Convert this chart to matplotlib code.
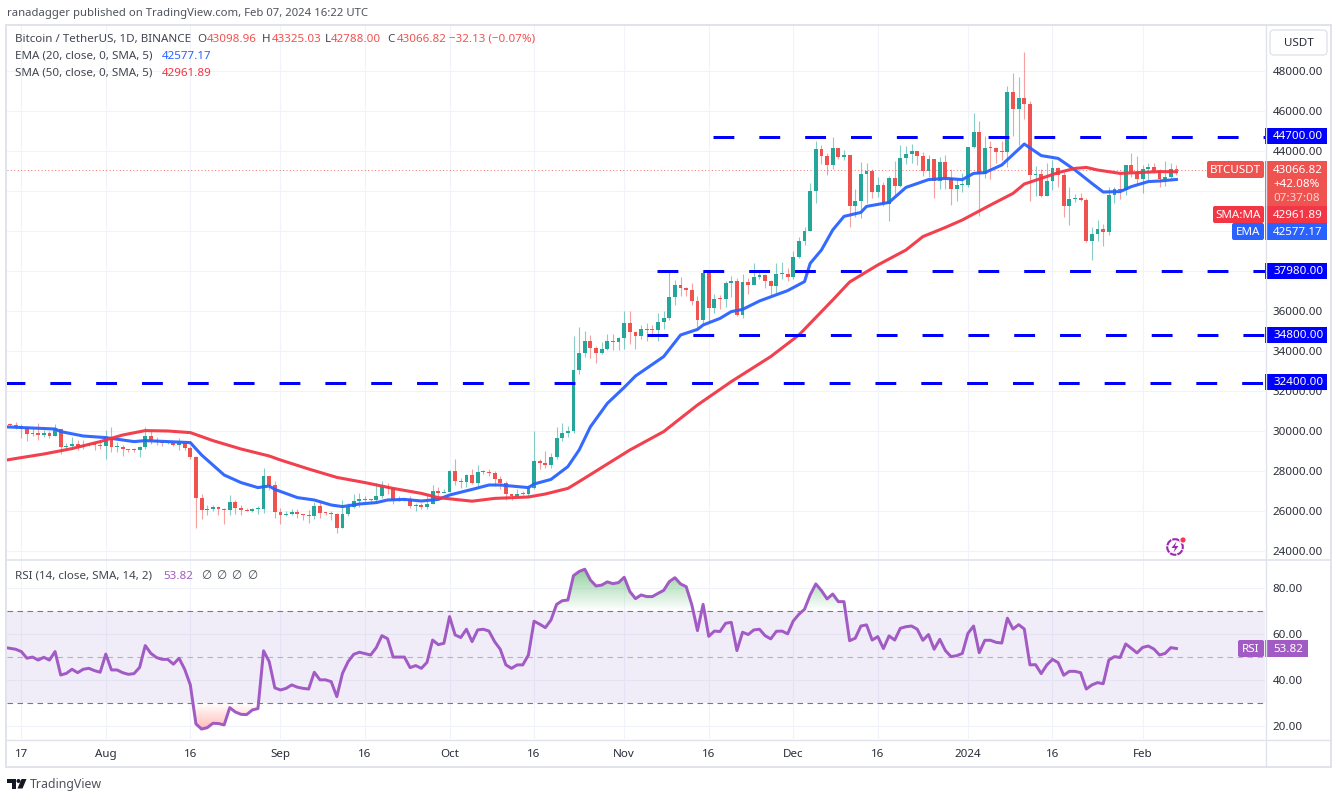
import numpy as np
import matplotlib
matplotlib.use("Agg")
import matplotlib.pyplot as plt
from matplotlib.patches import Rectangle, FancyBboxPatch, Circle, Polygon
from matplotlib.path import Path

plt.rcParams['font.family'] = ['Noto Sans', 'DejaVu Sans']

opens = [30320,30295,30249,30145,29856,29913,29792,29908,29771,30083,29176,29228,29354,29212,29314,29352,29281,
 29232,29705,29186,29193,29113,29042,29041,29180,29765,29561,29429,29397,29415,29283,29408,29170,28701,26664,26049,26096,26189,26124,26040,26431,26163,26047,26004,26089,26106,27728,27299,
 25940,25805,25869,25971,25827,25792,25759,26255,25910,25901,25841,25162,25840,26222,26522,26600,26569,26527,26762,27210,27127,26568,26580,26579,26256,26298,26217,26352,27021,26906,
 26962,27983,27494,27426,27778,27412,27931,27956,27917,27590,27392,26875,26756,26862,26852,27154,28500,28395,28320,28713,29669,29909,29992,33069,33922,34496,34151,33892,34081,34525,34474,
 34639,35421,34941,34732,35082,35049,35037,35443,35655,36693,37313,37138,37054,36502,35537,37880,36154,36596,36585,37386,37476,35813,37432,37289,37720,37796,37479,37254,37831,37858,
 37712,38688,39476,39978,41980,44080,43773,43292,44170,43713,43789,41253,41492,42869,43022,41940,42278,41374,42657,42275,43668,43861,43997,43739,43016,43613,42520,43442,42627,42099,42283,
 42283,44179,44946,42845,44151,44145,43968,43929,46951,46110,46654,46339,42782,42847,41732,42511,43137,42776,41262,41618,41665,41545,39507,39845,40077,39933,41816,42120,42035,43288,42952,
 42582,43082,43200,43011,42582,42708,43099]
closes = [30295,30249,30145,29856,29913,29792,29908,29771,30083,29176,29228,29354,29212,29314,29352,29281,29232,
 29705,29186,29193,29113,29042,29041,29180,29765,29561,29429,29397,29415,29283,29408,29170,28701,26664,26049,26096,26189,26124,26040,26431,26163,26047,26004,26089,26106,27728,27299,25940,
 25805,25869,25971,25827,25792,25759,26255,25910,25901,25841,25162,25840,26222,26522,26600,26569,26527,26762,27210,27127,26568,26580,26579,26256,26298,26217,26352,27021,26906,26962,
 27983,27494,27426,27778,27412,27931,27956,27917,27590,27392,26875,26756,26862,26852,27154,28500,28395,28320,28713,29669,29909,29992,33069,33922,34496,34151,33892,34081,34525,34474,34639,
 35421,34941,34732,35082,35049,35037,35443,35655,36693,37313,37138,37054,36502,35537,37880,36154,36596,36585,37386,37476,35813,37432,37289,37720,37796,37479,37254,37831,37858,37712,
 38688,39476,39978,41980,44080,43773,43292,44170,43713,43789,41253,41492,42869,43022,41940,42278,41374,42657,42275,43668,43861,43997,43739,43016,43613,42520,43442,42627,42099,42283,42283,
 44179,44946,42845,44151,44145,43968,43929,46951,46110,46654,46339,42782,42847,41732,42511,43137,42776,41262,41618,41665,41545,39507,39845,40077,39933,41816,42120,42035,43288,42952,42582,
 43082,43200,43011,42582,42708,43099,43067]
highs = [30390,30440,30340,30245,30190,30410,30050,29990,30350,30100,29380,29690,29570,29530,29415,29450,29530,
 30050,30180,29440,29310,29110,29170,29240,30200,30070,29680,29530,29450,29470,29650,29470,29230,28770,26840,26290,26300,26260,26140,26800,26560,26310,26130,26170,26240,28140,27580,27490,
 26130,25980,26120,26100,25870,26030,26450,26430,25950,25980,25900,26550,26400,26850,26890,26770,26620,27410,27490,27380,27150,26740,26640,26740,26400,26390,26830,27290,27225,27090,
 28060,28580,27670,27830,28120,28290,28030,28110,27990,27730,27480,26830,27100,26980,27290,30000,28610,28980,28920,30200,30380,30230,34740,35200,35000,34820,34240,34470,34840,34860,34720,
 35980,35980,34950,35280,35380,35280,35900,35990,37970,37530,37700,37210,37400,36760,37980,37920,36850,36820,37500,37750,37650,37860,37650,38400,37890,37840,37560,38390,38450,38170,
 38980,39700,40220,42420,44490,44300,43880,44700,44050,44040,43800,42100,43430,43420,43090,42700,42430,42770,43500,44280,44240,44370,44020,43950,43810,43600,43680,43790,43110,42610,42900,
 44180,45880,45500,44770,44490,44220,44500,47250,47890,47700,48970,46500,43250,43080,43380,43570,43200,42930,42200,41860,41880,41650,40180,40550,40350,42220,42200,42840,43310,43880,43750,
 43290,43420,43380,43120,43500,43400,43325]
lows = [30260,30080,29660,29500,29760,29560,29720,29640,29730,28860,29050,29100,29050,29120,29260,29030,29100,
 28580,28950,28950,28750,28950,28970,28700,29120,29350,29310,29250,29350,29250,29040,29060,28600,25170,25600,25800,26000,25800,25330,25800,25850,25780,25980,25960,25860,25920,27030,25660,
 25330,25730,25820,25650,25570,25380,25610,25650,25800,25550,24900,25130,25770,26130,26220,26470,26400,26380,26670,26850,26360,26500,26500,26130,25990,26090,26110,26330,26660,26880,
 26950,27300,27160,27200,27340,27180,27860,27730,27260,27110,26540,26560,26700,26810,26760,27110,28080,28130,28170,28610,29480,29700,29880,32850,33700,33670,33390,33850,34050,34050,34050,
 34120,34350,34100,34580,34500,34720,34520,35100,35530,36320,36730,36760,36300,35100,35360,35510,35880,36100,36190,36700,35750,35630,36870,37510,37600,37150,36750,36880,37600,37500,
 37620,38650,39290,39980,41420,43340,42820,43080,43590,43530,40220,40680,40640,41400,41650,41690,41250,40500,41820,42210,43330,43420,43290,42750,42720,41630,42100,42100,41300,41520,41970,
 42190,44150,40750,42630,42600,43400,43560,43200,44750,44300,45610,41500,41730,41700,41750,42050,42200,40680,40280,41450,41500,39430,38550,39490,39260,39820,41400,41620,41800,42680,42280,
 41900,42570,42880,42220,42260,42570,42788]

ema_bars = [-1,8,9,13,17,22,24,28,32,34,36,38,41,44,46,47,51,54,57,59,62,65,67,70,73,76,78,82,85,87,92,93,96,99,
 101,103,106,109,111,116,119,122,123,126,128,130,133,138,141,142,144,146,148,151,152,156,159,163,166,169,171,173,176,
 180,183,186,189,192,194,197,199,202,204,207]
ema_vals = [30210,30100,29970,29750,29670,29470,29520,29470,29420,28800,28300,27800,27420,27170,27250,27080,26670,26550,26300,26220,26350,26420,26550,26580,26500,26580,26800,27080,27300,27300,27170,27350,27580,28220,
 29050,30210,31380,32180,32750,33720,34800,35080,35300,35630,35970,36080,36500,37020,37470,38380,39050,40050,40730,40930,41230,41430,42180,42570,42630,42570,42880,42920,43300,
 44350,43770,43630,43050,42380,41950,41970,42220,42470,42500,42577]
sma_bars = [-1,2,6,11,16,20,24,28,32,36,41,46,48,53,58,63,68,73,76,82,86,92,95,99,101,110,116,122,128,135,140,146,149,154,
 159,162,166,169,174,178,180,183,186,189,191,193,197,201,204,207]
sma_vals = [28530,28670,28850,29120,29470,29800,30020,30000,29920,29520,29100,28750,28550,28100,27680,27420,27130,26880,26670,26490,26630,26700,26850,27130,27470,29050,29970,31300,32470,33720,34800,36550,37450,38300,
 39050,39720,40180,40550,41300,41880,42350,42630,42920,43130,43180,43050,42880,42930,42970,42962]

rsi_bars = np.arange(-1, 208)
rsi_vals = [54.3,
 53.9,53.5,52.5,49.6,50.1,48.8,50.0,48.8,52.5,42.3,43.0,44.8,43.3,44.8,45.2,44.2,43.5,51.4,44.5,44.5,43.3,42.6,42.9,45.6,55.1,51.7,49.9,49.1,49.1,47.0,49.6,44.8,38.0,21.0,18.8,19.4,21.3,21.2,20.6,28.1,26.2,25.2,25.1,27.1,27.7,52.8,48.1,36.7,35.8,36.5,38.0,37.0,36.5,36.2,43.5,40.2,40.2,39.4,32.9,43.0,48.1,51.3,52.2,51.6,51.0,54.2,59.4,58.1,50.1,50.1,50.1,45.5,46.4,45.2,47.8,57.5,55.5,56.1,67.7,
 59.7,58.6,62.2,56.8,61.9,62.2,61.4,56.8,53.5,46.7,45.2,46.7,46.7,51.0,65.7,64.4,62.9,66.2,73.0,74.6,74.9,85.5,87.3,88.3,83.6,81.0,81.4,82.8,82.0,82.5,84.8,78.6,75.5,77.1,76.4,76.4,77.8,79.1,82.9,84.6,81.9,80.7,72.8,61.6,73.0,59.1,61.4,61.2,64.8,65.2,52.9,60.9,59.9,61.9,62.2,59.4,58.0,61.3,61.4,60.2,65.8,68.7,70.9,77.1,81.9,79.0,75.4,77.5,74.2,74.2,57.2,58.3,63.6,64.1,57.5,59.0,53.8,59.3,
 57.5,62.6,63.3,63.6,62.2,57.4,59.9,53.5,57.8,52.9,50.3,50.7,51.7,60.4,63.6,52.0,57.4,57.4,56.5,56.2,67.0,62.3,64.2,62.3,46.7,46.8,42.9,46.7,49.1,47.7,42.2,43.9,43.9,43.3,36.2,38.0,39.0,38.5,48.8,50.3,49.9,55.8,53.9,51.9,54.3,54.9,53.6,51.0,51.7,54.2,53.82]

level_prices = [44700, 37980, 34800, 32400]
level_starts = [124.8, 114.9, 113.0, -1.0]
level_labels = ['44700.00', '37980.00', '34800.00', '32400.00']

price_ticks = list(range(24000, 50000, 2000))
hidden_ticks = [38000, 40000, 42000]
rsi_ticks = [20, 40, 60, 80]
time_ticks = [2, 17, 32, 48, 63, 78, 93, 109, 124, 139, 154, 170, 185, 201]
time_labels = ['17', 'Aug', '16', 'Sep', '16', 'Oct', '16', 'Nov', '16', 'Dec', '16', '2024', '16', 'Feb']

assert len(opens) == len(closes) == len(highs) == len(lows) == 208, (len(opens), len(closes), len(highs), len(lows))
assert len(rsi_vals) == 209, len(rsi_vals)
assert len(ema_bars) == len(ema_vals), (len(ema_bars), len(ema_vals))
assert len(sma_bars) == len(sma_vals), (len(sma_bars), len(sma_vals))

W, H = 1339, 797
GREEN, RED = '#26a69a', '#ef5350'
GRID = '#f0f3fa'
FRAME = '#e0e3eb'
TXT = '#2a2e39'
PURPLE = '#a25bc5'
BLUE = '#0000ff'
FS = 8.35

fig = plt.figure(figsize=(W / 100, H / 100), dpi=100, facecolor='white')

def axes_px(x0, y0, x1, y1, **kw):
    return fig.add_axes([x0 / W, 1 - y1 / H, (x1 - x0) / W, (y1 - y0) / H], **kw)

# x: bar i sits at pixel 10 + 5.635 i
xlim = ((7 - 10) / 5.635, (1265 - 10) / 5.635)

# ---------- price pane
ax = axes_px(7, 26, 1265, 560)
ax.set_xlim(xlim)
ax.set_ylim(48000 - (560 - 71) * 50, 48000 + (71 - 26) * 50)
ax.set_axisbelow(True)
bars = np.arange(len(closes))
o, c, h, l = map(np.array, (opens, closes, highs, lows))
col = [GREEN if cc >= oo else RED for oo, cc in zip(o, c)]
ax.vlines(bars, l, h, colors=col, lw=0.8, alpha=0.55, zorder=2)
ax.bar(bars, np.maximum(np.abs(c - o), 50), bottom=np.minimum(o, c), width=0.68, color=col, linewidth=0, zorder=3)
ax.axhline(closes[-1], color=RED, lw=0.7, ls=(0, (1, 2.5)), alpha=0.85, zorder=2.5)
ax.plot(ema_bars, ema_vals, color='#2962ff', lw=2.2, zorder=4, solid_joinstyle='round', alpha=0.95)
ax.plot(sma_bars, sma_vals, color='#f23645', lw=2.2, zorder=4, solid_joinstyle='round', alpha=0.95)
for p, s in zip(level_prices, level_starts):
    ax.plot([s, xlim[1]], [p, p], color=BLUE, lw=2.16, ls=(0, (6.95, 8.33)), dash_capstyle='butt', zorder=5)
ax.set_xticks(time_ticks)
ax.tick_params(axis='x', length=0, labelbottom=False)
ax.yaxis.tick_right()
ax.set_yticks(price_ticks)
ax.set_yticklabels(['' if t in hidden_ticks else f'{t:.2f}' for t in price_ticks], fontsize=FS, color=TXT)
ax.tick_params(axis='y', length=0, pad=5.6)
ax.grid(True, color=GRID, lw=0.8)
for s in ax.spines.values():
    s.set_visible(False)

# ---------- RSI pane
ar = axes_px(7, 561, 1265, 739)
ar.set_xlim(xlim)
ar.set_ylim(20 - (739 - 726.3) / 2.3, 80 + (588.3 - 561) / 2.3)
ar.set_axisbelow(True)
ar.axhspan(30, 70, color='#7e57c2', alpha=0.1, lw=0, zorder=1)
rb = np.asarray(rsi_bars, float)
rv = np.asarray(rsi_vals)
def gradient(cond, base, far, rgb, amax):
    poly = ar.fill_between(rb, base, rv, where=cond, interpolate=True, color='none', lw=0)
    path = Path.make_compound_path(*poly.get_paths())
    n = 64
    img = np.zeros((n, 1, 4))
    img[..., :3] = rgb
    img[:, 0, 3] = np.linspace(amax, 0, n)
    im = ar.imshow(img, extent=(xlim[0], xlim[1], base, far), aspect='auto', zorder=1.5,
                   origin='upper', interpolation='bilinear')
    im.set_clip_path(path, transform=ar.transData)
gradient(rv > 70, 70, 90, (0.25, 0.68, 0.33), 0.62)
gradient(rv < 30, 30, 18, (1.0, 0.33, 0.28), 0.42)
ar.set_xlim(xlim)
ar.set_ylim(20 - (739 - 726.3) / 2.3, 80 + (588.3 - 561) / 2.3)
ar.axhline(70, color='#787b86', lw=0.8, ls=(0, (5, 4)), zorder=2)
ar.axhline(30, color='#787b86', lw=0.8, ls=(0, (5, 4)), zorder=2)
ar.axhline(50, color='#b2b5be', lw=0.8, ls=(0, (5, 4)), zorder=2)
ar.plot(rb, rv, color=PURPLE, lw=2.15, zorder=3, solid_joinstyle='round')
ar.set_xticks(time_ticks)
ar.set_xticklabels(time_labels, fontsize=FS, color=TXT)
ar.tick_params(axis='x', length=0, pad=7.3)
ar.yaxis.tick_right()
ar.set_yticks(rsi_ticks)
ar.set_yticklabels([f'{t:.2f}' for t in rsi_ticks], fontsize=FS, color=TXT)
ar.tick_params(axis='y', length=0, pad=5.6)
ar.grid(True, color=GRID, lw=0.8)
for s in ar.spines.values():
    s.set_visible(False)

# ---------- chrome overlay in pixel coordinates
ov = fig.add_axes([0, 0, 1, 1], zorder=10)
ov.set_xlim(0, W)
ov.set_ylim(H, 0)
ov.axis('off')

def T(x, y, s, color=TXT, ha='left', fs=FS, **kw):
    ov.text(x, y + 0.8, s, color=color, ha=ha, va='center', fontsize=fs, **kw)

def box(x0, y0, x1, y1, color, round_=False):
    if round_:
        ov.add_patch(FancyBboxPatch((x0 + 1.5, y0 + 1.5), x1 - x0 - 3, y1 - y0 - 3,
                                    boxstyle='round,pad=1.5,rounding_size=2', fc=color, ec='none'))
    else:
        ov.add_patch(Rectangle((x0, y0), x1 - x0, y1 - y0, fc=color, ec='none'))

# frames
ov.add_patch(Rectangle((6, 25), 1325, 742, fc='none', ec=FRAME, lw=1.4))
ov.plot([7, 1331], [560, 560], color=FRAME, lw=1.2)
ov.plot([7, 1331], [739.5, 739.5], color=FRAME, lw=1.0)
ov.plot([1265.5, 1265.5], [25, 767], color=FRAME, lw=1.0)

# header and legends
T(7, 12.5, 'ranadagger published on TradingView.com, Feb 07, 2024 16:22 UTC', color='#50535e', fs=8.15)
T(15, 38.5, 'Bitcoin / TetherUS, 1D, BINANCE', color='#434651')
for x, lab, val in [(197, 'O', '43098.96'), (262, 'H', '43325.03'), (325, 'L', '42788.00'), (387, 'C', '43066.82')]:
    T(x, 38.5, lab, color='#434651')
    T(x + 10 if lab != 'L' else x + 6, 38.5, val, color=RED)
T(449, 38.5, '\u221232.13 (\u22120.07%)', color=RED)
T(15, 55.5, 'EMA (20, close, 0, SMA, 5)', color='#434651')
T(162, 55.5, '42577.17', color='#2962ff')
T(15, 72.5, 'SMA (50, close, 0, SMA, 5)', color='#434651')
T(162, 72.5, '42961.89', color='#f23645')
T(15, 575.5, 'RSI (14, close, SMA, 14, 2)', color='#434651')
T(163, 575.5, '53.82', color=PURPLE)
for x in (201, 216, 231, 247):
    T(x, 575.5, '\u2205', color='#434651')

# USDT button
ov.add_patch(FancyBboxPatch((1271, 31), 55, 23, boxstyle='round,pad=1,rounding_size=4', fc='white', ec=FRAME, lw=1))
T(1299, 42.5, 'USDT', ha='center')

# level labels
for lab, yc in zip(level_labels, (136, 271, 335, 382)):
    box(1265, yc - 8, 1327, yc + 8, BLUE)
    T(1273, yc, lab, color='white', fontweight='medium')

# last price block
box(1265, 161, 1327, 206, RED)
T(1273, 169.5, '43066.82', color='white')
T(1273, 183.5, '+42.08%', color='white')
T(1273, 197.5, '07:37:08', color='#fbd5d4')
box(1207, 161, 1264, 178, RED, True)
T(1235.5, 169.5, 'BTCUSDT', color='white', ha='center')
box(1265, 206, 1327, 223, '#f23645')
T(1273, 214.5, '42961.89', color='white')
box(1213, 206, 1264, 223, '#f23645', True)
T(1238.5, 214.5, 'SMA:MA', color='white', ha='center')
box(1265, 223, 1327, 240, '#2962ff')
T(1273, 231.5, '42577.17', color='white')
box(1232, 223, 1264, 240, '#2962ff', True)
T(1248, 231.5, 'EMA', color='white', ha='center')

# RSI labels
box(1238, 640, 1264, 657, PURPLE, True)
T(1251, 648.5, 'RSI', color='white', ha='center')
box(1265, 640, 1308, 657, PURPLE)
T(1273, 648.5, '53.82', color='white')

# TradingView logo and wordmark
ink = '#131722'
ov.add_patch(Polygon([(7, 779), (16, 779), (16, 788.5), (11.5, 788.5), (11.5, 783), (7, 783)], fc=ink, ec='none'))
ov.add_patch(Circle((18.5, 781), 2, fc=ink, ec='none'))
ov.add_patch(Polygon([(21.5, 779), (26.5, 779), (22.5, 788.5), (17.5, 788.5)], fc=ink, ec='none'))
T(30, 784, 'TradingView', color='#50535e', fs=8.9)

# flash icon
ov.add_patch(Circle((1175, 547), 7.8, fc='none', ec='#9c27b0', lw=1.5, ls=(0, (3.2, 0.5))))
ov.add_patch(Polygon([(1176.5, 541.5), (1171.5, 548), (1175, 548), (1173.5, 552.5), (1178.5, 546), (1175, 546)],
                     fc='#9c27b0', ec='none'))
ov.add_patch(Circle((1183, 540), 3.8, fc='white', ec='none'))
ov.add_patch(Circle((1183, 540), 2.6, fc='#f7365a', ec='none'))

fig.savefig('out.png', dpi=100, facecolor='white')
